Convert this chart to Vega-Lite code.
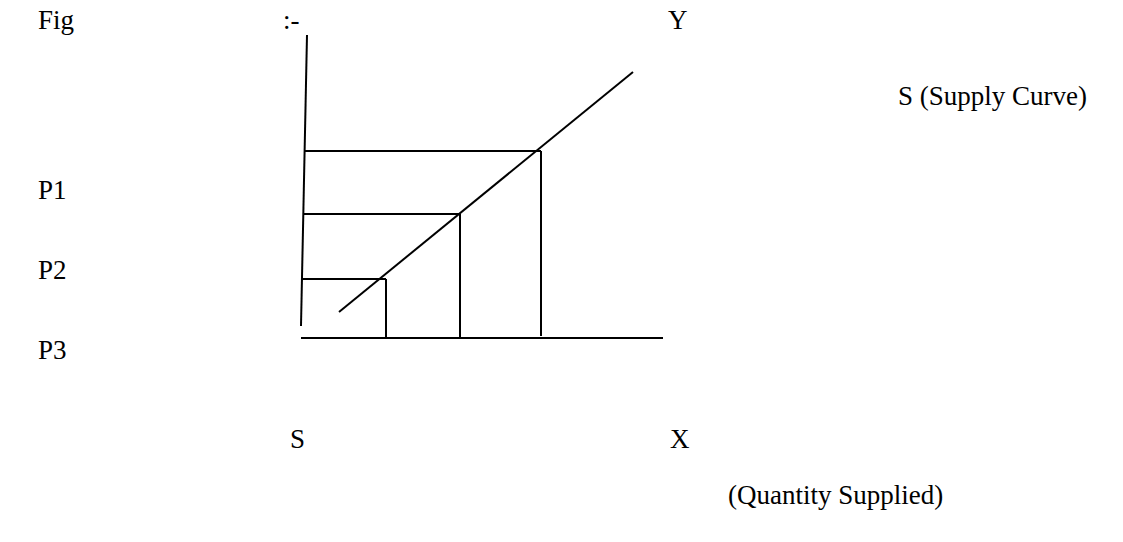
{
  "$schema": "https://vega.github.io/schema/vega-lite/v6.json",
  "width": 1123,
  "height": 542,
  "autosize": {"type": "fit", "contains": "padding"},
  "padding": 0,
  "background": "white",
  "config": {"view": {"stroke": null}},
  "datasets": {
    "lines": [
      {"x1": 307, "y1": 35, "x2": 301, "y2": 326},
      {"x1": 301, "y1": 338, "x2": 663, "y2": 338},
      {"x1": 339, "y1": 312, "x2": 633, "y2": 72},
      {"x1": 305, "y1": 151, "x2": 541, "y2": 151},
      {"x1": 303, "y1": 214, "x2": 460, "y2": 214},
      {"x1": 302, "y1": 279, "x2": 386, "y2": 279},
      {"x1": 541, "y1": 151, "x2": 541, "y2": 336},
      {"x1": 460, "y1": 214, "x2": 460, "y2": 338},
      {"x1": 386, "y1": 279, "x2": 386, "y2": 338}
    ],
    "labels": [
      {"x": 38, "y": 29, "label": "Fig"},
      {"x": 283, "y": 29, "label": ":-"},
      {"x": 668, "y": 29, "label": "Y"},
      {"x": 898, "y": 105, "label": "S (Supply Curve)"},
      {"x": 38, "y": 199, "label": "P1"},
      {"x": 38, "y": 279, "label": "P2"},
      {"x": 38, "y": 359, "label": "P3"},
      {"x": 290, "y": 448, "label": "S"},
      {"x": 670, "y": 448, "label": "X"},
      {"x": 728, "y": 504, "label": "(Quantity Supplied)"}
    ]
  },
  "layer": [
    {
      "data": {"name": "lines"},
      "mark": {"type": "rule", "color": "black", "strokeWidth": 2},
      "encoding": {
        "x": {"field": "x1", "type": "quantitative", "scale": {"domain": [0, 1123], "nice": false, "zero": false}, "axis": null},
        "y": {"field": "y1", "type": "quantitative", "scale": {"domain": [0, 542], "nice": false, "zero": false, "reverse": true}, "axis": null},
        "x2": {"field": "x2"},
        "y2": {"field": "y2"}
      }
    },
    {
      "data": {"name": "labels"},
      "mark": {"type": "text", "align": "left", "baseline": "alphabetic", "font": "Liberation Serif", "fontSize": 27, "color": "black"},
      "encoding": {
        "x": {"field": "x", "type": "quantitative", "scale": {"domain": [0, 1123], "nice": false, "zero": false}, "axis": null},
        "y": {"field": "y", "type": "quantitative", "scale": {"domain": [0, 542], "nice": false, "zero": false, "reverse": true}, "axis": null},
        "text": {"field": "label"}
      }
    }
  ]
}
